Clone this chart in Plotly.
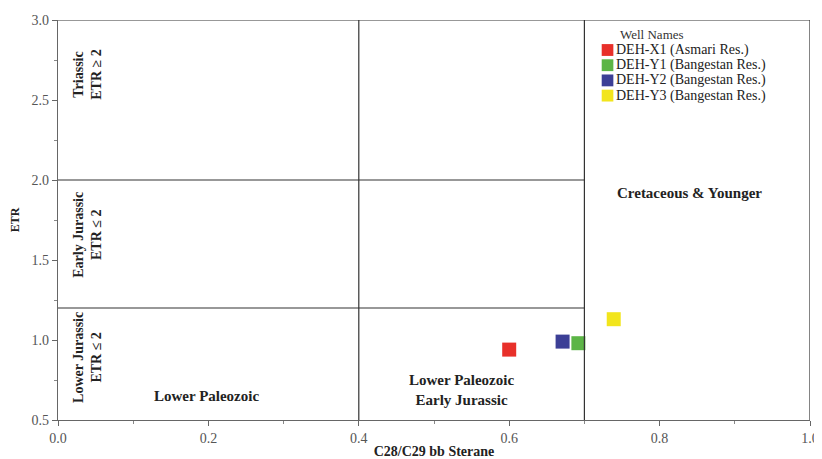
import plotly.graph_objects as go

wells = ["DEH-X1 (Asmari Res.)", "DEH-Y1 (Bangestan Res.)", "DEH-Y2 (Bangestan Res.)", "DEH-Y3 (Bangestan Res.)"]
sterane = [0.60, 0.692, 0.671, 0.739]
etr = [0.94, 0.98, 0.99, 1.13]
colors = ["#e8302a", "#5cb546", "#3c3f96", "#f2e51c"]

# region boundaries
v_lines = [0.4, 0.7]
h_lines = [2.0, 1.2]

region_labels = ["Triassic<br>ETR ≥ 2", "Early Jurassic<br>ETR ≤ 2", "Lower Jurassic<br>ETR ≤ 2",
                 "Lower Paleozoic", "Lower Paleozoic<br>Early Jurassic", "Cretaceous &amp; Younger"]
label_x = [0.039, 0.039, 0.039, 0.197, 0.537, 0.84]
label_y = [2.66, 1.66, 0.89, 0.65, 0.69, 1.92]
label_angle = [-90, -90, -90, 0, 0, 0]
label_size = [14, 14, 14, 15, 15, 15]

FONT = "Liberation Serif"
fig = go.Figure()
for w, xv, yv, c in zip(wells, sterane, etr, colors):
    fig.add_trace(go.Scatter(x=[xv], y=[yv], mode="markers", name=w, showlegend=False,
                             marker=dict(symbol="square", size=14, color=c, line=dict(width=0))))

line_style = dict(color="#333333", width=1.2)
for xv in v_lines:
    fig.add_shape(type="line", x0=xv, x1=xv, y0=0.5, y1=3.0, xref="x", yref="y", line=line_style)
for yv in h_lines:
    fig.add_shape(type="line", x0=0, x1=v_lines[1], y0=yv, y1=yv, xref="x", yref="y", line=line_style)
# frame top and right
fig.add_shape(type="line", x0=0, x1=1, y0=3.0, y1=3.0, xref="x", yref="y", line=line_style)
fig.add_shape(type="line", x0=1, x1=1, y0=0.5, y1=3.0, xref="x", yref="y", line=line_style)

for t, xv, yv, a, s in zip(region_labels, label_x, label_y, label_angle, label_size):
    fig.add_annotation(x=xv, y=yv, text="<b>" + t + "</b>", showarrow=False, textangle=a,
                       font=dict(family=FONT, size=s, color="#222222"), align="center")

# legend (compact, drawn in the upper right region)
leg_x, leg_top, leg_step = 0.723, 2.8125, 0.095
fig.add_annotation(x=leg_x + 0.022, y=leg_top + 0.095, text="Well Names", showarrow=False,
                   xanchor="left", yanchor="middle", font=dict(family=FONT, size=13, color="#333333"))
for i, (w, c) in enumerate(zip(wells, colors)):
    yc = leg_top - i * leg_step
    fig.add_shape(type="rect", x0=leg_x, x1=leg_x + 0.0155, y0=yc - 0.037, y1=yc + 0.037,
                  xref="x", yref="y", fillcolor=c, line=dict(width=0))
    fig.add_annotation(x=leg_x + 0.0165, y=yc, text=w, showarrow=False, xanchor="left", yanchor="middle",
                       font=dict(family=FONT, size=14, color="#222222"))

fig.update_layout(
    width=814, height=451,
    margin=dict(l=50, r=12, t=12, b=39),
    paper_bgcolor="white", plot_bgcolor="white",
    font=dict(family=FONT, size=14, color="#555555"),
    showlegend=False,
    xaxis=dict(range=[0, 1.0], dtick=0.2, tickformat=".1f", showgrid=False, zeroline=False,
               showline=True, linecolor="#666666", linewidth=1.2, ticks="outside", ticklen=5,
               tickcolor="#666666", automargin=False, ticklabeloverflow="allow",
               minor=dict(dtick=0.1, ticks="outside", ticklen=3, tickcolor="#888888"),
               title=dict(text="<b>C28/C29 bb Sterane</b>", font=dict(family=FONT, size=14, color="#222222"), standoff=6)),
    yaxis=dict(range=[0.5, 3.0], dtick=0.5, tickformat=".1f", showgrid=False, zeroline=False,
               showline=True, linecolor="#666666", linewidth=1.2, ticks="outside", ticklen=5,
               tickcolor="#666666", automargin=False,
               minor=dict(dtick=0.25, ticks="outside", ticklen=3, tickcolor="#888888"),
               title=dict(text="<b>ETR</b>", font=dict(family=FONT, size=12, color="#222222"), standoff=12)),
)

fig.write_html("out.html")
